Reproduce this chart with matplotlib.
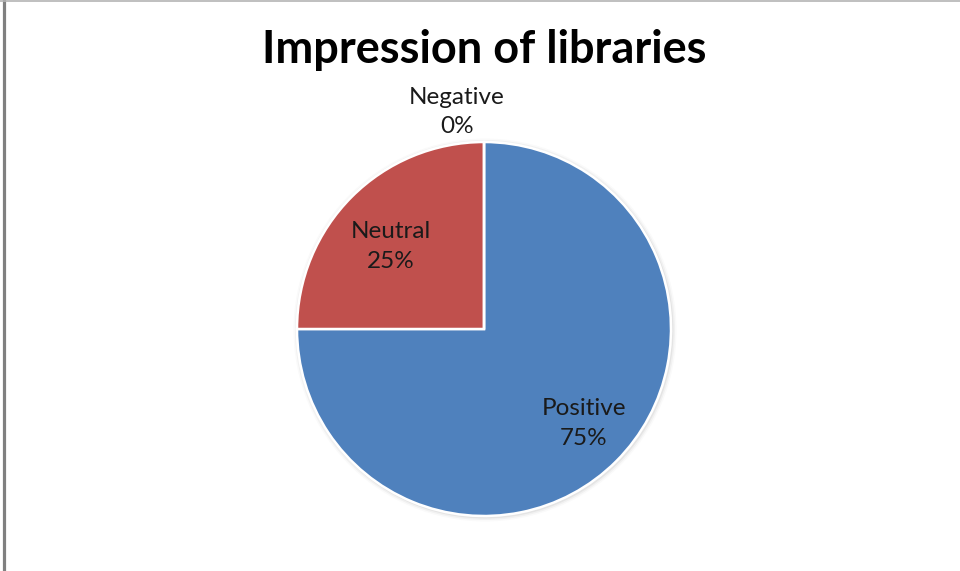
import numpy as np
import matplotlib.pyplot as plt
from matplotlib.patches import Circle
from matplotlib.lines import Line2D

plt.rcParams['font.family'] = ['Lato', 'DejaVu Sans']

categorias = ['Positive', 'Neutral', 'Negative']
porcentajes = [75, 25, 0]
colores = ['#4F81BD', '#C0504D', '#9BBB59']
# distancia de cada etiqueta al centro (fracción del radio) y ajuste fino en px
distancias = [0.73, 0.66, 1.16]
ajustes = [(3, 2), (-6, -5), (-27, 0)]

fig = plt.figure(figsize=(9.6, 5.71), dpi=100)
ax = fig.add_axes([0, 0, 1, 1])

centro = (484, 242)
radio = 187

# sombra suave alrededor del pastel
for i, a in enumerate([0.10, 0.07, 0.04]):
    ax.add_patch(Circle((centro[0] + 1, centro[1] - 1), radio + 1.5 + i * 1.5,
                        color='#808080', alpha=a, lw=0, zorder=0))

wedges, _ = ax.pie(porcentajes, colors=colores, startangle=90, counterclock=False,
                   center=centro, radius=radio,
                   wedgeprops=dict(edgecolor='white', linewidth=1.8, zorder=1))
ax.set_xlim(0, 960)
ax.set_ylim(0, 571)
ax.set_aspect('equal')
ax.axis('off')

for w, nombre, p, d, (dx, dy) in zip(wedges, categorias, porcentajes, distancias, ajustes):
    ang = np.deg2rad((w.theta1 + w.theta2) / 2)
    x = centro[0] + d * radio * np.cos(ang) + dx
    y = centro[1] + d * radio * np.sin(ang) + dy
    ax.text(x, y, f'{nombre}\n{p}%', ha='center', va='center', fontsize=17.5,
            color='#1a1a1a', linespacing=1.5, zorder=3)

fig.text(484 / 960, 1 - 50 / 571, 'Impression of libraries', ha='center', va='center',
         fontsize=32.5, fontweight='bold', color='black')

# marco del gráfico
fig.add_artist(Line2D([3.5 / 960, 3.5 / 960], [0, 1], color='#808080', lw=2.3))
fig.add_artist(Line2D([0, 1], [1 - 0.8 / 571, 1 - 0.8 / 571], color='#b4b4b4', lw=1.2))

fig.savefig('out.png', dpi=100)
